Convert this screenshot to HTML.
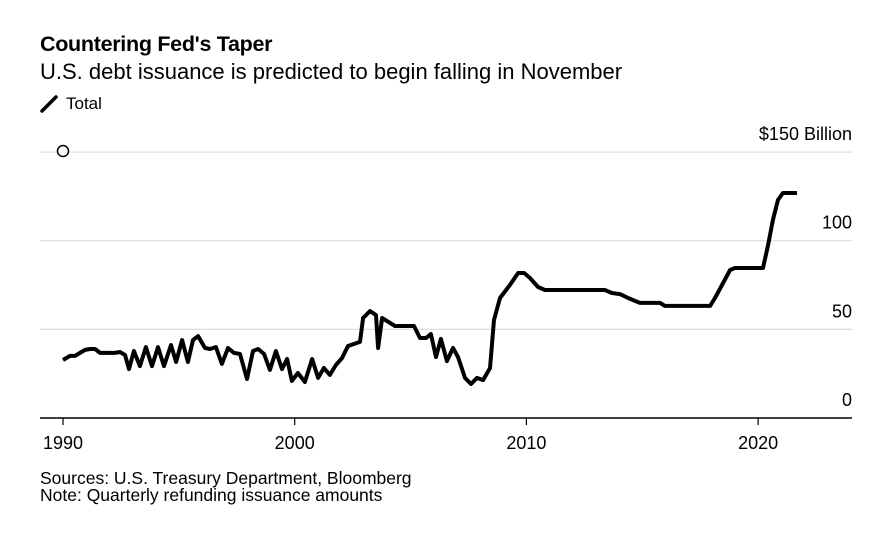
<!DOCTYPE html>
<html><head><meta charset="utf-8"><style>
body{margin:0;background:#fff;font-family:"Liberation Sans",Arial,sans-serif;}
</style></head><body>
<svg width="888" height="550" style="display:block">
<text x="40" y="51" font-size="21.5" font-weight="bold" fill="#000" letter-spacing="-0.3">Countering Fed's Taper</text>
<text x="40" y="79" font-size="22" fill="#000">U.S. debt issuance is predicted to begin falling in November</text>
<g>
<line x1="42" y1="111" x2="56" y2="97" stroke="#000" stroke-width="3.5" stroke-linecap="round"/>
<text x="66" y="109" font-size="17" fill="#000">Total</text>
</g>
<g id="grid"></g>
<g id="xaxis"></g>
<path id="line" fill="none" stroke="#000" stroke-width="4" stroke-linejoin="round"/>
<circle cx="63" cy="151" r="5.5" fill="#fff" stroke="#000" stroke-width="1.5"/>
<text x="40" y="484" font-size="17.5" fill="#000">Sources: U.S. Treasury Department, Bloomberg</text>
<text x="40" y="501" font-size="17.5" fill="#000">Note: Quarterly refunding issuance amounts</text>
</svg>
<script>
const years=[1990,1990.3,1990.52,1990.95,1991.17,1991.38,1991.6,1992.24,1992.46,1992.68,1992.85,1993.06,1993.32,1993.58,1993.84,1994.1,1994.36,1994.66,1994.88,1995.14,1995.39,1995.61,1995.83,1996.13,1996.34,1996.6,1996.86,1997.12,1997.38,1997.64,1997.94,1998.2,1998.42,1998.68,1998.93,1999.19,1999.45,1999.67,1999.88,2000.14,2000.44,2000.75,2001.01,2001.26,2001.52,2001.78,2002.04,2002.3,2002.82,2002.95,2003.25,2003.51,2003.6,2003.77,2004.33,2005.15,2005.41,2005.67,2005.88,2006.1,2006.31,2006.57,2006.83,2007.05,2007.35,2007.61,2007.87,2008.13,2008.43,2008.6,2008.86,2009.29,2009.64,2009.9,2010.15,2010.5,2010.8,2013.39,2013.69,2014.04,2014.39,2014.9,2015.77,2015.98,2017.93,2018.14,2018.44,2018.79,2019.0,2020.21,2020.43,2020.64,2020.86,2021.07,2021.68];
const values=[32.7,35,35,38.4,38.9,38.9,36.7,36.7,37.2,35.5,27.6,37.8,29.3,40,29.3,40,29.3,41.2,31.6,44,31.6,44,46.2,39.5,38.9,40,30.5,39.5,36.7,36.1,22,37.8,38.9,36.1,27.1,37.8,27.6,33.3,20.9,25.4,20.3,33.3,22.6,28.2,24.3,29.9,33.8,40.6,42.9,56.4,60.3,58.1,39.5,56.4,51.9,51.9,45.1,45.1,47.4,34.4,44.6,32.1,39.5,34.4,22.6,19.2,22.6,21.4,28.2,55.3,67.7,75,81.8,81.8,79,73.9,72.2,72.2,70.5,69.9,67.7,64.9,64.9,63.2,63.2,67.7,75,83.5,84.6,84.6,97.6,111.7,123,126.9,126.9];
const yTicks=[0,50,100,150];
const yTickLabels=["0","50","100","$150 Billion"];
const xTicks=[1990,2000,2010,2020];
const xs=y=>63+(y-1990)*23.17;
const ys=v=>418-v*1.773;
const NS="http://www.w3.org/2000/svg";
const grid=document.getElementById('grid');
yTicks.forEach((t,i)=>{
  const l=document.createElementNS(NS,'line');
  l.setAttribute('x1',40);l.setAttribute('x2',852);
  l.setAttribute('y1',ys(t));l.setAttribute('y2',ys(t));
  l.setAttribute('stroke',t===0?'#000':'#ddd');l.setAttribute('stroke-width',t===0?1.5:1.2);
  
  
  grid.appendChild(l);
  const tx=document.createElementNS(NS,'text');
  tx.setAttribute('x',852);tx.setAttribute('y',ys(t)-12);
  tx.setAttribute('text-anchor','end');tx.setAttribute('font-size','18');
  tx.textContent=yTickLabels[i];
  
  
  grid.appendChild(tx);
});
const xa=document.getElementById('xaxis');
xTicks.forEach(t=>{
  const l=document.createElementNS(NS,'line');
  l.setAttribute('x1',xs(t));l.setAttribute('x2',xs(t));
  l.setAttribute('y1',418);l.setAttribute('y2',425);
  l.setAttribute('stroke','#000');l.setAttribute('stroke-width',1.2);
  
  
  xa.appendChild(l);
  const tx=document.createElementNS(NS,'text');
  tx.setAttribute('x',xs(t));tx.setAttribute('y',449);
  tx.setAttribute('text-anchor','middle');tx.setAttribute('font-size','18');
  tx.textContent=t;
  
  
  xa.appendChild(tx);
});
document.getElementById('line').setAttribute('d',years.map((y,i)=>(i?'L':'M')+xs(y).toFixed(1)+','+ys(values[i]).toFixed(1)).join(''));
</script>
</body></html>
